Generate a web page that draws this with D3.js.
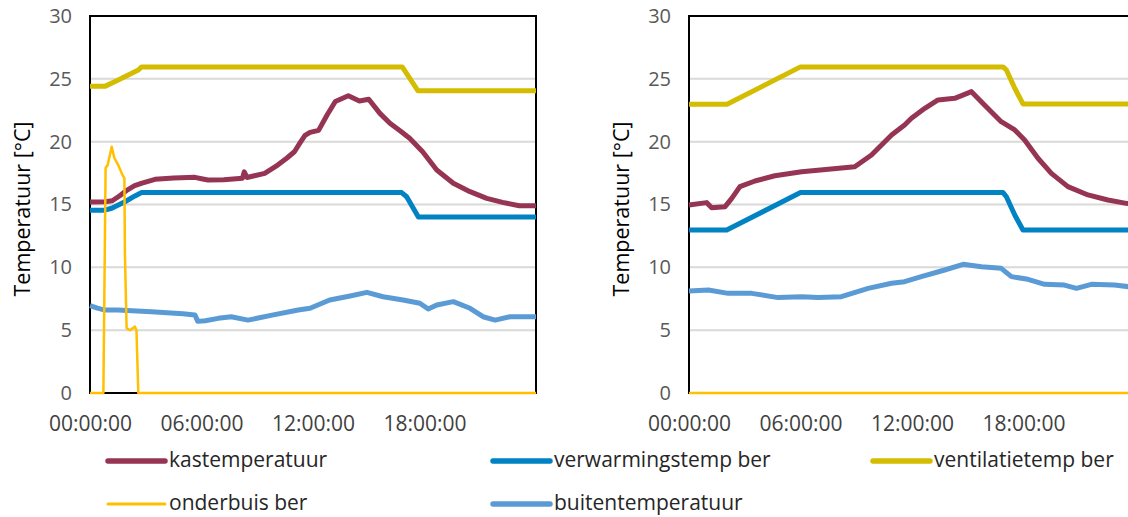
<!DOCTYPE html>
<html>
<head>
<meta charset="utf-8">
<script src="https://cdn.jsdelivr.net/npm/d3@7"></script>
<style>
  html, body { margin: 0; padding: 0; background: #fff; }
  svg { display: block; font-family: "Open Sans", sans-serif; }
</style>
</head>
<body>
<svg id="chart" width="1128" height="517"></svg>
<script>
// Time of day in hours, paired with temperature in °C.
// Left panel
const kasLeft = [[0,15.2],[0.8,15.22],[1.2,15.3],[1.6,15.7],[2.0,16.15],[2.4,16.5],[2.8,16.7],[3.5,17.0],[4.5,17.1],[5.65,17.16],[6.0,17.05],[6.35,16.95],[7.2,16.97],[8.2,17.08],[8.3,17.6],[8.45,17.15],[9.4,17.48],[10.1,18.14],[10.6,18.7],[11.0,19.2],[11.3,19.9],[11.57,20.5],[11.84,20.74],[12.3,20.9],[12.75,22.1],[13.2,23.2],[13.9,23.65],[14.5,23.24],[15.0,23.37],[15.6,22.25],[16.14,21.46],[16.7,20.85],[17.2,20.27],[17.9,19.2],[18.66,17.75],[19.55,16.69],[20.45,16.02],[21.35,15.49],[22.2,15.17],[23.1,14.9],[24,14.9]];
const verwLeft = [[0,14.55],[0.8,14.55],[1.17,14.7],[1.88,15.22],[2.42,15.68],[2.78,15.95],[16.77,15.95],[17.04,15.62],[17.67,14.0],[24,14.0]];
const ventLeft = [[0,24.4],[0.8,24.4],[1.52,24.9],[2.06,25.3],[2.6,25.7],[2.78,25.95],[16.8,25.95],[17.05,25.4],[17.65,24.05],[24,24.05]];
const onderLeft = [[0,0],[0.72,0],[0.84,17.9],[0.95,18.14],[1.17,19.6],[1.31,18.7],[1.52,18.14],[1.7,17.5],[1.85,17.08],[1.88,10.98],[1.97,5.15],[2.15,5.0],[2.42,5.28],[2.5,5.0],[2.6,0],[24,0]];
const buitLeft = [[0,6.95],[0.4,6.75],[0.8,6.6],[1.5,6.6],[3.3,6.47],[5.0,6.3],[5.65,6.2],[5.8,5.7],[6.2,5.75],[6.9,5.94],[7.6,6.07],[8.5,5.8],[9.8,6.2],[11.2,6.6],[11.84,6.74],[12.9,7.4],[14.0,7.72],[14.9,8.01],[15.77,7.66],[16.85,7.4],[17.75,7.14],[18.2,6.68],[18.66,7.0],[19.55,7.27],[20.45,6.74],[21.15,6.07],[21.8,5.8],[22.6,6.07],[24,6.07]];

// Right panel
const kasRight = [[0,14.96],[0.95,15.15],[1.22,14.75],[1.94,14.83],[2.3,15.49],[2.74,16.42],[3.55,16.87],[4.62,17.29],[6.06,17.61],[7.5,17.8],[8.92,18.0],[9.82,18.94],[10.9,20.53],[11.6,21.33],[11.97,21.86],[12.69,22.65],[13.4,23.32],[14.3,23.45],[15.2,23.98],[15.9,22.92],[16.8,21.59],[17.53,20.93],[18.06,20.13],[18.78,18.68],[19.5,17.48],[20.39,16.42],[21.47,15.76],[22.54,15.36],[23.53,15.09],[24,15.0]];
const verwRight = [[0,12.97],[2.03,12.97],[6.0,15.95],[16.9,15.95],[17.08,15.62],[17.53,14.16],[17.97,12.97],[24,12.97]];
const ventRight = [[0,22.97],[2.05,22.97],[6.0,25.95],[16.9,25.95],[17.08,25.7],[17.53,24.25],[17.97,23.0],[24,23.0]];
const onderRight = [[0,0],[24,0]];
const buitRight = [[0,8.12],[1.04,8.2],[2.11,7.93],[3.37,7.93],[4.8,7.59],[6.06,7.66],[6.95,7.59],[8.2,7.66],[9.64,8.33],[10.9,8.73],[11.6,8.86],[12.5,9.26],[13.76,9.79],[14.75,10.24],[15.74,10.05],[16.8,9.92],[17.35,9.26],[18.24,9.05],[19.14,8.65],[20.2,8.59],[20.85,8.33],[21.65,8.65],[22.9,8.59],[24,8.4]];

const yTicks = [0, 5, 10, 15, 20, 25, 30];
const xTicks = [0, 6, 12, 18];
const xTickLabels = ["00:00:00", "06:00:00", "12:00:00", "18:00:00"];
const yTitle = "Temperatuur [°C]";

const seriesNames = ["kastemperatuur", "verwarmingstemp ber", "ventilatietemp ber", "onderbuis ber", "buitentemperatuur"];
const seriesColors = ["#953553", "#0082c3", "#d4bc00", "#ffc000", "#5b9bd5"];
const seriesWidths = [5, 5, 5, 2.5, 5];

const panels = [
  { offset: 0,   series: [kasLeft, verwLeft, ventLeft, onderLeft, buitLeft] },
  { offset: 599, series: [kasRight, verwRight, ventRight, onderRight, buitRight] }
];

const svg = d3.select("#chart");
const x = d3.scaleLinear().domain([0, 24]).range([90, 536]);
const y = d3.scaleLinear().domain([0, 30]).range([393, 16]);
const line = d3.line().x(d => x(d[0])).y(d => y(d[1]));

// draw order: kas, verwarming, ventilatie, buiten, then onderbuis on top
const drawOrder = [0, 1, 2, 4, 3];

panels.forEach(p => {
  const g = svg.append("g").attr("transform", `translate(${p.offset},0)`);

  // horizontal gridlines
  g.selectAll("line.grid")
    .data(yTicks.filter(t => t > 0 && t < 30))
    .join("line")
    .attr("x1", x(0)).attr("x2", x(24))
    .attr("y1", d => y(d)).attr("y2", d => y(d))
    .attr("stroke", "#d9d9d9").attr("stroke-width", 2);

  // plot area border
  g.append("rect")
    .attr("x", x(0)).attr("y", y(30))
    .attr("width", x(24) - x(0)).attr("height", y(0) - y(30))
    .attr("fill", "none").attr("stroke", "#000").attr("stroke-width", 2);

  // y axis labels
  const yAxis = d3.axisLeft(y).tickValues(yTicks).tickSize(0).tickPadding(18);
  const ya = g.append("g").attr("transform", `translate(${x(0)},0)`).call(yAxis);
  ya.select(".domain").remove();
  ya.selectAll("text").attr("font-size", 20).attr("fill", "#595959")
    .attr("font-family", "Open Sans, sans-serif");

  // x axis labels
  const xAxis = d3.axisBottom(x).tickValues(xTicks)
    .tickFormat((d, i) => xTickLabels[i]).tickSize(0).tickPadding(23);
  const xa = g.append("g").attr("transform", `translate(0,${y(0)})`).call(xAxis);
  xa.select(".domain").remove();
  xa.selectAll("text").attr("font-size", 21).attr("fill", "#404040")
    .attr("font-family", "Open Sans, sans-serif");

  // y axis title
  g.append("text")
    .attr("transform", `translate(21,209) rotate(-90)`)
    .attr("text-anchor", "middle").attr("dominant-baseline", "central")
    .attr("font-size", 21.5).attr("fill", "#000")
    .text(yTitle);

  // series
  drawOrder.forEach(i => {
    g.append("path")
      .datum(p.series[i])
      .attr("d", line)
      .attr("fill", "none")
      .attr("stroke", seriesColors[i])
      .attr("stroke-width", seriesWidths[i])
      .attr("stroke-linejoin", "round")
      .attr("stroke-linecap", "butt");
  });
});

// legend
const legendCols = [108, 493, 873];
const legendRows = [461, 504];
const legend = svg.append("g");
seriesNames.forEach((name, i) => {
  const cx = legendCols[i % 3];
  const cy = legendRows[Math.floor(i / 3)];
  legend.append("line")
    .attr("x1", cx).attr("x2", cx + 57).attr("y1", cy).attr("y2", cy)
    .attr("stroke", seriesColors[i]).attr("stroke-width", seriesWidths[i] + 0.5)
    .attr("stroke-linecap", "round");
  legend.append("text")
    .attr("x", cx + 61).attr("y", cy + 6)
    .attr("font-size", 21).attr("fill", "#262626")
    .text(name);
});
</script>
</body>
</html>
